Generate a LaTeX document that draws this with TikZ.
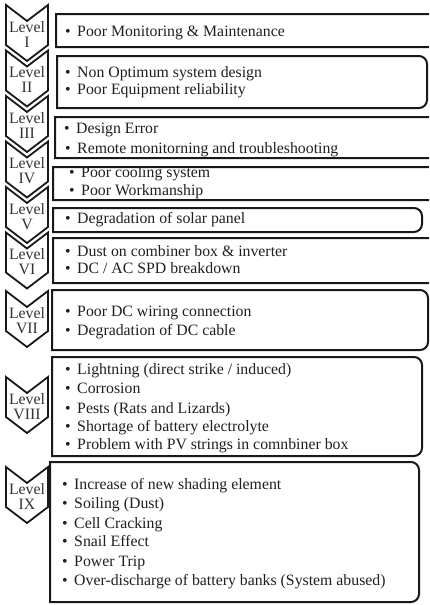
\documentclass[tikz,border=0pt]{standalone}
\usepackage{fontspec}
\setmainfont{Liberation Serif}
\begin{document}
\begin{tikzpicture}[x=1pt,y=-1pt,
  boxline/.style={line width=2pt, draw=black!90},
  chev/.style={line width=1.8pt, draw=black!90, line join=miter},
  item/.style={anchor=base west, inner sep=0pt, text=black!88, font=\fontsize{15.8}{18}\selectfont},
  lvl/.style={anchor=base, inner sep=0pt, text=black!80, font=\fontsize{15.8}{18}\selectfont}]
\useasboundingbox (0,0) rectangle (429,605);
\clip (0,0) rectangle (429,605);
% boxes: left square, right rounded
\newcommand{\rbox}[4]{\draw[boxline] (#1,#2) [rounded corners=8pt]-- (#3,#2) -- (#3,#4) [sharp corners]-- (#1,#4) -- cycle;}
\rbox{56}{14}{445}{47}
\rbox{57}{56}{427}{108}
\rbox{55}{117}{445}{158}
\rbox{53}{167}{445}{200}
\rbox{53}{208}{422}{232}
\rbox{53}{238}{445}{283}
\rbox{52}{290}{428}{350}
\rbox{52}{357}{422}{456}
\rbox{50}{462}{419}{602}
% chevrons
\newcommand{\chevron}[3]{%
  \draw[chev] (6,#1) -- (27,#1+16) -- (48,#1) -- (48,#1+40) -- (27,#1+56) -- (6,#1+40) -- cycle;
  \node[lvl] (#3a) at (27,#1+27) {Level};
  \node[lvl] (#3b) at (27,#1+42) {#2};}
\chevron{5}{I}{c1}
\chevron{50.5}{II}{c2}
\chevron{96}{III}{c3}
\chevron{141.5}{IV}{c4}
\chevron{187}{V}{c5}
\chevron{232.5}{VI}{c6}
\chevron{291}{VII}{c7}
\chevron{377}{VIII}{c8}
\chevron{467}{IX}{c9}
% texts
\newcommand{\bul}{•\hspace{6.5pt}}
\node[item] (t1) at (65,36) {\bul Poor Monitoring \& Maintenance};
\node[item] (t2a) at (65,77) {\bul Non Optimum system design};
\node[item] (t2b) at (65,94) {\bul Poor Equipment reliability};
\node[item] (t3a) at (64,133) {\bul Design Error};
\node[item] (t3b) at (65,153) {\bul Remote monitorning and troubleshooting};
\node[item] (t4a) at (69,177) {\bul Poor cooling system};
\node[item] (t4b) at (69,195) {\bul Poor Workmanship};
\node[item] (t5) at (65,223) {\bul Degradation of solar panel};
\node[item] (t6a) at (65,256) {\bul Dust on combiner box \& inverter};
\node[item] (t6b) at (65,273) {\bul DC / AC SPD breakdown};
\node[item] (t7a) at (65,316) {\bul Poor DC wiring connection};
\node[item] (t7b) at (65,335) {\bul Degradation of DC cable};
\node[item] (t8a) at (65,374) {\bul Lightning (direct strike / induced)};
\node[item] (t8b) at (65,393.5) {\bul Corrosion};
\node[item] (t8c) at (65,413) {\bul Pests (Rats and Lizards)};
\node[item] (t8d) at (65,431.5) {\bul Shortage of battery electrolyte};
\node[item] (t8e) at (65,449.5) {\bul Problem with PV strings in comnbiner box};
\node[item] (t9a) at (62,489) {\bul Increase of new shading element};
\node[item] (t9b) at (62,508.5) {\bul Soiling (Dust)};
\node[item] (t9c) at (62,528) {\bul Cell Cracking};
\node[item] (t9d) at (62,546.5) {\bul Snail Effect};
\node[item] (t9e) at (62,566) {\bul Power Trip};
\node[item] (t9f) at (62,585) {\bul Over-discharge of battery banks (System abused)};
\end{tikzpicture}
\end{document}
